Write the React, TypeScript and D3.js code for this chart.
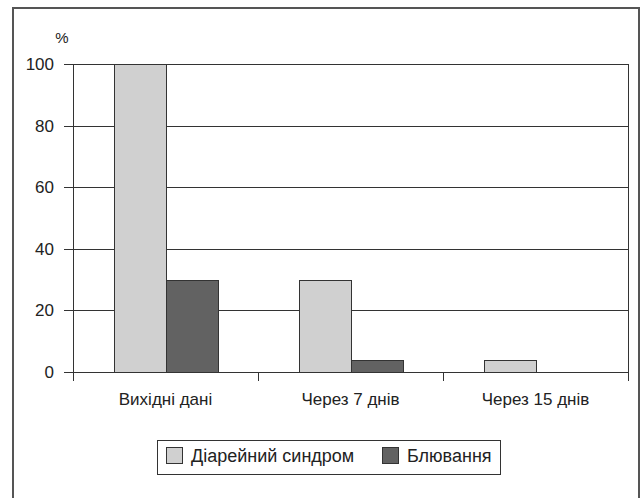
import React from "react";
import * as d3 from "d3";

const categories = ["Вихідні дані", "Через 7 днів", "Через 15 днів"];
const seriesNames = ["Діарейний синдром", "Блювання"];
const diarrhea = [100, 30, 4];
const vomiting = [30, 4, 0];
const yTicks = [0, 20, 40, 60, 80, 100];
const unitLabel = "%";

const colors = ["#d0d0d0", "#626262"];
const stroke = "#333333";
const font = "'Liberation Sans', Arial, sans-serif";

export default function App() {
  const W = 640;
  const H = 498;
  const left = 73;
  const right = 628;
  const top = 64;
  const bottom = 372;

  const x = d3.scaleBand<string>().domain(categories).range([left, right]).paddingInner(0).paddingOuter(0);
  const y = d3.scaleLinear().domain([0, 100]).range([bottom, top]);
  const inner = d3.scaleBand<number>().domain([0, 1]).range([0, x.bandwidth()]).paddingInner(0).paddingOuter(0.78);

  const series = [diarrhea, vomiting];

  return (
    <svg width={W} height={H} style={{ position: "absolute", left: 0, top: 0 }} fontFamily={font}>
      <rect x={0} y={0} width={W} height={H} fill="#fff" />
      {/* outer frame */}
      <path d={`M13,${H} V8 H639 V${H}`} fill="none" stroke="#555" strokeWidth={2} />

      {/* gridlines */}
      {yTicks.filter((t) => t > 0).map((t) => (
        <line key={t} x1={left} x2={right} y1={Math.round(y(t)) + 0.5} y2={Math.round(y(t)) + 0.5} stroke={stroke} strokeWidth={1} />
      ))}
      <line x1={right + 0.5} x2={right + 0.5} y1={top} y2={bottom} stroke={stroke} />

      {/* bars */}
      {categories.map((c, i) =>
        series.map((s, j) =>
          s[i] > 0 ? (
            <rect
              key={`${i}-${j}`}
              x={Math.round((x(c) ?? 0) + (inner(j) ?? 0)) + 0.5}
              y={Math.round(y(s[i])) + 0.5}
              width={Math.round(inner.bandwidth())}
              height={Math.round(y(0)) - Math.round(y(s[i]))}
              fill={colors[j]}
              stroke={stroke}
              strokeWidth={1}
            />
          ) : null
        )
      )}

      {/* y axis */}
      <line x1={left + 0.5} x2={left + 0.5} y1={top} y2={bottom} stroke={stroke} />
      {yTicks.map((t) => (
        <g key={t}>
          <line x1={left - 9} x2={left} y1={Math.round(y(t)) + 0.5} y2={Math.round(y(t)) + 0.5} stroke={stroke} />
          <text x={54} y={y(t)} dy="0.35em" textAnchor="end" fontSize={17} fill="#222">
            {t}
          </text>
        </g>
      ))}
      <text x={62} y={38} dy="0.35em" textAnchor="middle" fontSize={15} fill="#222">
        {unitLabel}
      </text>

      {/* x axis */}
      <line x1={left} x2={right + 1} y1={bottom + 0.5} y2={bottom + 0.5} stroke={stroke} />
      {[...categories.map((c) => x(c) ?? 0), right].map((px, i) => (
        <line key={i} x1={Math.round(px) + 0.5} x2={Math.round(px) + 0.5} y1={bottom} y2={bottom + 9} stroke={stroke} />
      ))}
      {categories.map((c) => (
        <text key={c} x={(x(c) ?? 0) + x.bandwidth() / 2} y={399} dy="0.35em" textAnchor="middle" fontSize={17} fill="#222">
          {c}
        </text>
      ))}

      {/* legend */}
      <rect x={157.5} y={440.5} width={343} height={34} fill="#fff" stroke={stroke} />
      <rect x={166.5} y={447.5} width={16} height={16} fill={colors[0]} stroke={stroke} />
      <text x={191} y={456} dy="0.35em" fontSize={18} fill="#222">{seriesNames[0]}</text>
      <rect x={382.5} y={447.5} width={16} height={16} fill={colors[1]} stroke={stroke} />
      <text x={407} y={456} dy="0.35em" fontSize={18} fill="#222">{seriesNames[1]}</text>
    </svg>
  );
}
